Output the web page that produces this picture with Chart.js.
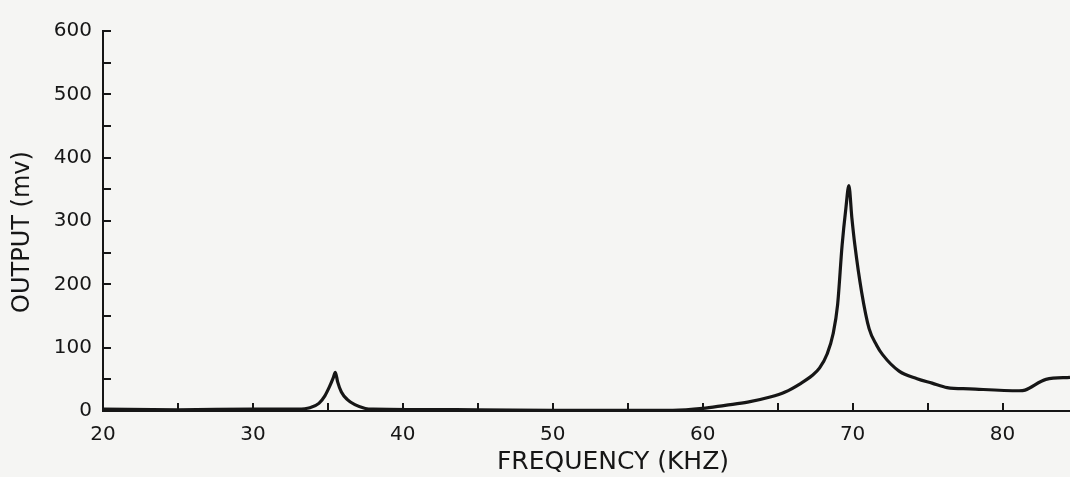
<!DOCTYPE html>
<html>
<head>
<meta charset="utf-8">
<script src="https://cdn.jsdelivr.net/npm/chart.js@4/dist/chart.umd.min.js"></script>
<style>
  html, body { margin: 0; padding: 0; background: #f5f5f3; }
  canvas { display: block; }
</style>
</head>
<body>
<canvas id="myChart" width="1070" height="477"></canvas>
<script>
// values
const freq = [20, 25, 30, 33, 33.8, 34.4, 34.8, 35.1, 35.35, 35.5, 35.65, 35.9, 36.3, 36.8, 37.5, 38,
  45, 50, 55, 58, 60, 61.5, 63, 64.5, 65.5, 66.5, 67.3, 67.8, 68.3, 68.7, 69.0, 69.3, 69.55, 69.75,
  69.95, 70.15, 70.6, 71.1, 71.6, 72.0, 73.1, 74.3, 75.3, 76.3, 77.8, 81.1, 81.5, 82.9, 84.5]
const output = [3, 2, 3, 3, 5, 12, 24, 38, 52, 61, 46, 30, 18, 10, 4, 3,
  2, 1, 1, 1, 4, 9, 14, 22, 30, 43, 56, 68, 90, 122, 168, 262, 320, 356,
  305, 262, 188, 130, 104, 89, 63, 51, 44, 37, 35, 32, 33, 50, 53]

const xTicks = [20, 25, 30, 35, 40, 45, 50, 55, 60, 65, 70, 75, 80]
const yTicks = [0, 50, 100, 150, 200, 250, 300, 350, 400, 450, 500, 550, 600]

const ink = '#161616'
const font = 'DejaVu Sans'

// axis titles, placed like the hand lettering on the original
const axisTitles = {
  id: 'axisTitles',
  afterDraw(chart) {
    const c = chart.ctx
    c.save()
    c.fillStyle = ink
    c.textAlign = 'center'
    c.textBaseline = 'middle'
    c.font = '25px "' + font + '"'
    c.fillText('FREQUENCY (KHZ)', 613, 462)
    c.font = '24px "' + font + '"'
    c.translate(23, 232)
    c.rotate(-Math.PI / 2)
    c.fillText('OUTPUT (mv)', 0, 0)
    c.restore()
  }
}

const ctx = document.getElementById('myChart')

new Chart(ctx, {
  type: 'line',
  data: {
    datasets: [{
      data: freq.map((f, i) => ({ x: f, y: output[i] })),
      borderColor: ink,
      borderWidth: 3.2,
      pointRadius: 0,
      cubicInterpolationMode: 'monotone',
      fill: false
    }]
  },
  options: {
    responsive: false,
    animation: false,
    layout: { padding: { top: 20, right: 0, left: 0, bottom: 0 } },
    plugins: { legend: { display: false }, tooltip: { enabled: false } },
    scales: {
      x: {
        type: 'linear',
        min: 20,
        max: 84.5,
        afterBuildTicks: s => { s.ticks = xTicks.map(v => ({ value: v })) },
        afterFit: s => { s.height = 66 },
        border: { display: true, color: ink, width: 2 },
        grid: { drawOnChartArea: false, color: ink, lineWidth: 2, tickLength: -8 },
        ticks: {
          color: ink,
          padding: 20,
          maxRotation: 0,
          font: { family: font, size: 20 },
          callback: v => (v % 10 === 0 ? v : '')
        }
      },
      y: {
        min: 0,
        max: 600,
        afterBuildTicks: s => { s.ticks = yTicks.map(v => ({ value: v })) },
        afterFit: s => { s.width = 103 },
        border: { display: true, color: ink, width: 2 },
        grid: { drawOnChartArea: false, color: ink, lineWidth: 2, tickLength: -8 },
        ticks: {
          color: ink,
          padding: 19,
          font: { family: font, size: 20 },
          callback: v => (v % 100 === 0 ? v : '')
        }
      }
    }
  },
  plugins: [axisTitles]
})
</script>
</body>
</html>
